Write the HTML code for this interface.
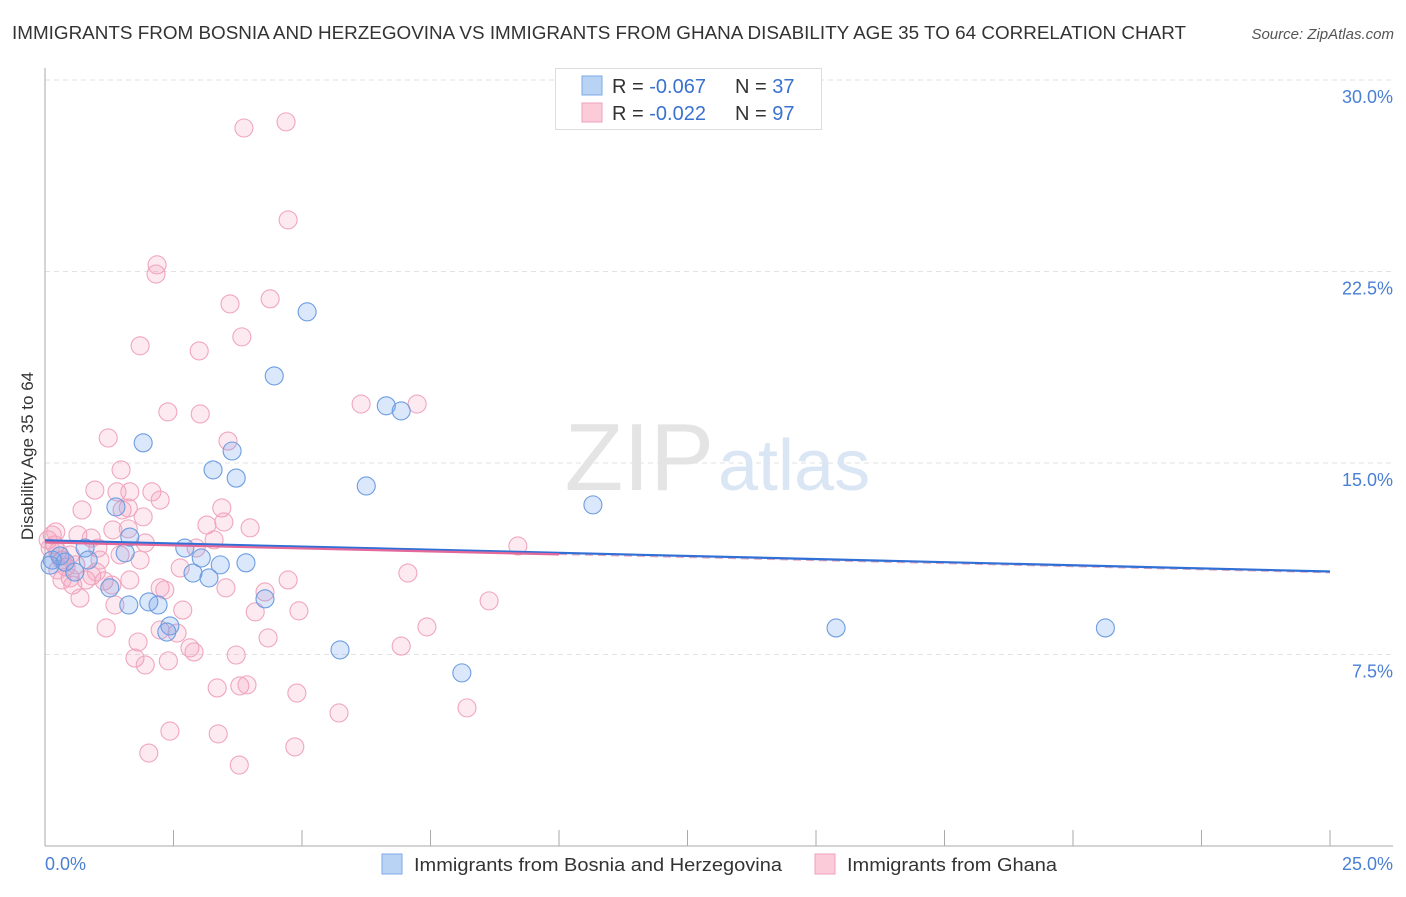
<!DOCTYPE html>
<html><head><meta charset="utf-8"><style>
body{margin:0;background:#fff;font-family:"Liberation Sans",sans-serif}
svg text{font-family:"Liberation Sans",sans-serif}
</style></head><body>
<svg id="chart" width="1406" height="892" xmlns="http://www.w3.org/2000/svg">
<text x="12" y="39" font-size="18" fill="#333" textLength="1174" lengthAdjust="spacingAndGlyphs">IMMIGRANTS FROM BOSNIA AND HERZEGOVINA VS IMMIGRANTS FROM GHANA DISABILITY AGE 35 TO 64 CORRELATION CHART</text>
<text x="1394" y="39" font-size="15" fill="#555" text-anchor="end" font-style="italic">Source: ZipAtlas.com</text>
<g id="grid"></g>
<text x="714" y="490" font-size="96" text-anchor="end" fill="#e4e4e4" font-family="Liberation Serif">ZIP</text>
<text x="718" y="490" font-size="72" fill="#dbe6f5">atlas</text>
<g id="pts"></g>
<g id="lines"></g>
<text transform="translate(33,456) rotate(-90)" font-size="17" fill="#333" text-anchor="middle">Disability Age 35 to 64</text>
<text x="45" y="870" font-size="18" fill="#4a7fd4">0.0%</text>
<text x="1393" y="870" font-size="18" fill="#4a7fd4" text-anchor="end">25.0%</text>
<g>
<rect x="555.5" y="68.5" width="266" height="61" fill="#fff" stroke="#ddd"/>
<rect x="582" y="76" width="20" height="19" fill="#b9d3f5" stroke="#7fa8e6"/>
<rect x="582" y="103" width="20" height="19" fill="#fbcbd9" stroke="#eda0b8"/>
<text x="612" y="93" font-size="20" fill="#333">R = <tspan fill="#3a72d0">-0.067</tspan><tspan x="735">N = </tspan><tspan fill="#3a72d0">37</tspan></text>
<text x="612" y="120" font-size="20" fill="#333">R = <tspan fill="#3a72d0">-0.022</tspan><tspan x="735">N = </tspan><tspan fill="#3a72d0">97</tspan></text>
</g>
<g>
<rect x="382" y="854" width="20" height="20" fill="#b9d3f5" stroke="#7fa8e6"/>
<text x="414" y="871" font-size="18" fill="#333" textLength="368" lengthAdjust="spacingAndGlyphs">Immigrants from Bosnia and Herzegovina</text></g>
<g>
<rect x="815" y="854" width="20" height="20" fill="#fbcbd9" stroke="#eda0b8"/>
<text x="847" y="871" font-size="18" fill="#333" textLength="210" lengthAdjust="spacingAndGlyphs">Immigrants from Ghana</text></g>
</svg>
<script>
const yTicks=[7.5,15,22.5,30];
const yTickLabels=["7.5%","15.0%","22.5%","30.0%"];
const xTicks=[0,2.5,5,7.5,10,12.5,15,17.5,20,22.5,25];
const blueX=[1.91,5.10,4.46,6.64,6.93,3.27,3.72,3.64,6.25,10.66,1.38,1.65,1.56,2.72,3.04,2.88,3.19,3.41,3.91,1.26,1.63,2.02,2.20,4.28,2.43,2.37,5.74,8.11,15.39,20.63,0.14,0.29,0.39,0.78,0.1,0.58,0.84];
const blueY=[15.79,20.92,18.41,17.24,17.04,14.73,14.41,15.47,14.10,13.36,13.28,12.10,11.48,11.67,11.28,10.69,10.50,11.01,11.09,10.11,9.44,9.56,9.44,9.68,8.62,8.38,7.68,6.78,8.54,8.54,11.20,11.36,11.12,11.67,11.0,10.73,11.2];
const pinkX=[3.87,4.69,4.73,2.18,2.16,3.60,4.38,3.83,1.85,3.00,2.39,3.02,6.15,7.24,1.23,3.56,1.48,0.97,1.40,1.65,2.08,2.24,0.72,1.50,1.62,1.91,3.44,3.48,3.15,3.99,1.32,0.64,0.90,1.03,1.95,2.94,3.29,9.20,0.14,0.19,0.25,0.41,0.49,0.60,0.33,0.91,1.15,1.30,0.54,1.65,2.24,2.63,3.52,4.73,4.28,7.06,1.36,2.68,4.09,4.94,8.64,1.19,1.81,2.57,2.82,2.90,4.34,7.43,6.93,1.75,1.95,2.40,3.72,3.35,3.79,3.93,4.90,5.72,8.21,2.43,3.37,2.02,4.86,3.78,1.62,0.06,0.1,0.21,0.80,1.0,1.46,0.33,0.49,0.68,1.07,0.25,1.85,2.33,2.24];
const pinkY=[28.12,28.36,24.52,22.76,22.40,21.23,21.43,19.94,19.59,19.39,17.00,16.92,17.31,17.31,15.98,15.86,14.73,13.94,13.87,13.87,13.87,13.55,13.16,13.16,13.24,12.89,13.24,12.69,12.57,12.46,12.38,12.18,12.06,11.67,11.87,11.67,11.99,11.75,12.18,11.79,11.52,10.93,10.50,11.01,10.42,10.58,10.38,10.22,10.22,10.42,10.11,10.89,10.11,10.42,9.95,10.69,9.44,9.24,9.17,9.21,9.60,8.54,7.99,8.34,7.76,7.60,8.15,8.58,7.83,7.36,7.09,7.25,7.48,6.19,6.27,6.31,5.99,5.21,5.41,4.50,4.39,3.64,3.88,3.17,12.42,11.99,11.67,12.30,10.42,10.73,11.40,11.2,11.4,9.71,11.2,10.81,11.2,10.03,8.46];
const blueTrend=[[0,11.97],[25,10.75]];
const pinkTrend=[[0,11.89],[10,11.42],[25,10.7]];
const X=v=>45+v/25*1285, Y=v=>846-v/7.5*191.5;
const NS="http://www.w3.org/2000/svg";
function mk(p,t,a){const e=document.createElementNS(NS,t);for(const k in a)e.setAttribute(k,a[k]);p.appendChild(e);return e;}
const g=document.getElementById('grid');
yTicks.forEach((t,i)=>{
 const l=mk(g,'line',{x1:45,x2:1393,y1:Y(t),y2:Y(t),stroke:'#e2e2e2','stroke-dasharray':'5,4'});
 
 
 const tx=mk(g,'text',{x:1393,y:Y(t)+23,'font-size':18,fill:'#4a7fd4','text-anchor':'end'});
 tx.textContent=yTickLabels[i];
 
 
});
const ax=mk(g,'line',{x1:45,x2:45,y1:68,y2:846,stroke:'#aaa'});


const bx=mk(g,'line',{x1:45,x2:1393,y1:846,y2:846,stroke:'#aaa'});


xTicks.forEach(t=>{const l=mk(g,'line',{x1:X(t),x2:X(t),y1:830,y2:846,stroke:'#aaa'});
 
 });
const p=document.getElementById('pts');
pinkX.forEach((x,i)=>{const c=mk(p,'circle',{cx:X(x),cy:Y(pinkY[i]),r:9,fill:'rgba(245,150,180,0.2)',stroke:'#f0a6bf','stroke-width':1.1});
 
 });
blueX.forEach((x,i)=>{const c=mk(p,'circle',{cx:X(x),cy:Y(blueY[i]),r:9,fill:'rgba(110,160,235,0.25)',stroke:'#6d9de0','stroke-width':1.1});
 
 });
const L=document.getElementById('lines');
const pl2=mk(L,'line',{x1:X(pinkTrend[1][0]),y1:Y(pinkTrend[1][1]),x2:X(pinkTrend[2][0]),y2:Y(pinkTrend[2][1]),stroke:'#e8a8bc','stroke-width':1.2,'stroke-dasharray':'8,5'});


const bl=mk(L,'line',{x1:X(blueTrend[0][0]),y1:Y(blueTrend[0][1]),x2:X(blueTrend[1][0]),y2:Y(blueTrend[1][1]),stroke:'#2f6fd6','stroke-width':2.2});


const pl=mk(L,'line',{x1:X(pinkTrend[0][0]),y1:Y(pinkTrend[0][1]),x2:X(pinkTrend[1][0]),y2:Y(pinkTrend[1][1]),stroke:'#e4689a','stroke-width':2.2});


</script>
</body></html>
